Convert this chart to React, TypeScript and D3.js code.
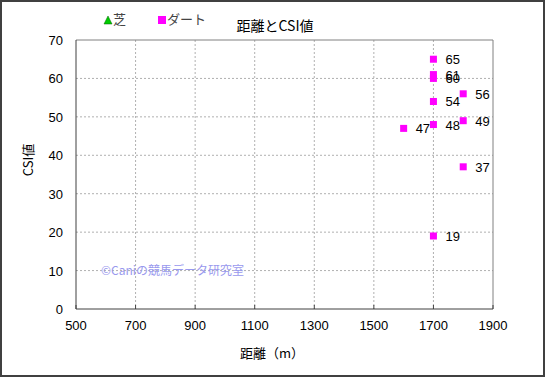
import React from "react";
import * as d3 from "d3";

const dirtDistance = [1700, 1700, 1700, 1700, 1700, 1700, 1800, 1800, 1800, 1600];
const dirtCSI = [65, 61, 60, 54, 48, 19, 56, 49, 37, 47];
const xTicks = [500, 700, 900, 1100, 1300, 1500, 1700, 1900];
const yTicks = [0, 10, 20, 30, 40, 50, 60, 70];

const W = 545, H = 377;
const L = 76, R = 493, T = 40, B = 309;
const FONT = "'Noto Sans CJK JP', 'Liberation Sans', sans-serif";
const NUM = "'Liberation Sans', Arial, sans-serif";

export default function App() {
  const x = d3.scaleLinear().domain([500, 1900]).range([L, R]);
  const y = d3.scaleLinear().domain([0, 70]).range([B, T]);
  return (
    <svg width={W} height={H} style={{ position: "absolute", left: 0, top: 0 }} fontFamily={FONT}>
      <rect x={0} y={0} width={W} height={H} fill="#fff" />
      <rect x={1} y={1} width={W - 2} height={H - 2} fill="none" stroke="#404040" strokeWidth={2} />
      {xTicks.slice(1, -1).map((t) => (
        <line key={"gx" + t} x1={x(t)} x2={x(t)} y1={T} y2={B} stroke="#b0b0b0" strokeDasharray="2,2" />
      ))}
      {yTicks.slice(1, -1).map((t) => (
        <line key={"gy" + t} x1={L} x2={R} y1={y(t)} y2={y(t)} stroke="#b0b0b0" strokeDasharray="2,2" />
      ))}
      <line x1={L} x2={R} y1={T} y2={T} stroke="#808080" />
      <line x1={R} x2={R} y1={T} y2={B} stroke="#808080" />
      <line x1={L} x2={L} y1={T} y2={B} stroke="#404040" />
      <line x1={L} x2={R} y1={B} y2={B} stroke="#404040" />
      {xTicks.map((t) => (
        <g key={"xt" + t}>
          <line x1={x(t)} x2={x(t)} y1={B} y2={B - 4} stroke="#404040" />
          <text x={x(t)} y={B + 21} textAnchor="middle" fontSize={13} fontFamily={NUM} fill="#000">{t}</text>
        </g>
      ))}
      {yTicks.map((t) => (
        <text key={"yt" + t} x={L - 13} y={y(t) + 5} textAnchor="end" fontSize={13} fontFamily={NUM} fill="#000">{t}</text>
      ))}
      <text x={101} y={275} fontSize={12} fill="#9999ee">©Caniの競馬データ研究室</text>
      {dirtDistance.map((d, i) => (
        <g key={"p" + i}>
          <rect x={x(d) - 3.5} y={y(dirtCSI[i]) - 3.5} width={7} height={7} fill="#ff00ff" />
          <text x={x(d) + 12} y={y(dirtCSI[i]) + 5} fontSize={13} fontFamily={NUM} fill="#000">{dirtCSI[i]}</text>
        </g>
      ))}
      <text x={275} y={31} textAnchor="middle" fontSize={14} fill="#000">距離とCSI値</text>
      <path d="M104,24 L108,16 L112,24 Z" fill="#00cc00" stroke="#006600" strokeWidth={0.5} />
      <text x={113} y={24} fontSize={13} fill="#444">芝</text>
      <rect x={158} y={16} width={8} height={8} fill="#ff00ff" />
      <text x={167} y={24} fontSize={13} fill="#444">ダート</text>
      <text x={33} y={160} textAnchor="middle" fontSize={13} fill="#000" transform="rotate(-90,33,160)">CSI値</text>
      <text x={272} y={358} textAnchor="middle" fontSize={13} fill="#000">距離（m）</text>
    </svg>
  );
}
